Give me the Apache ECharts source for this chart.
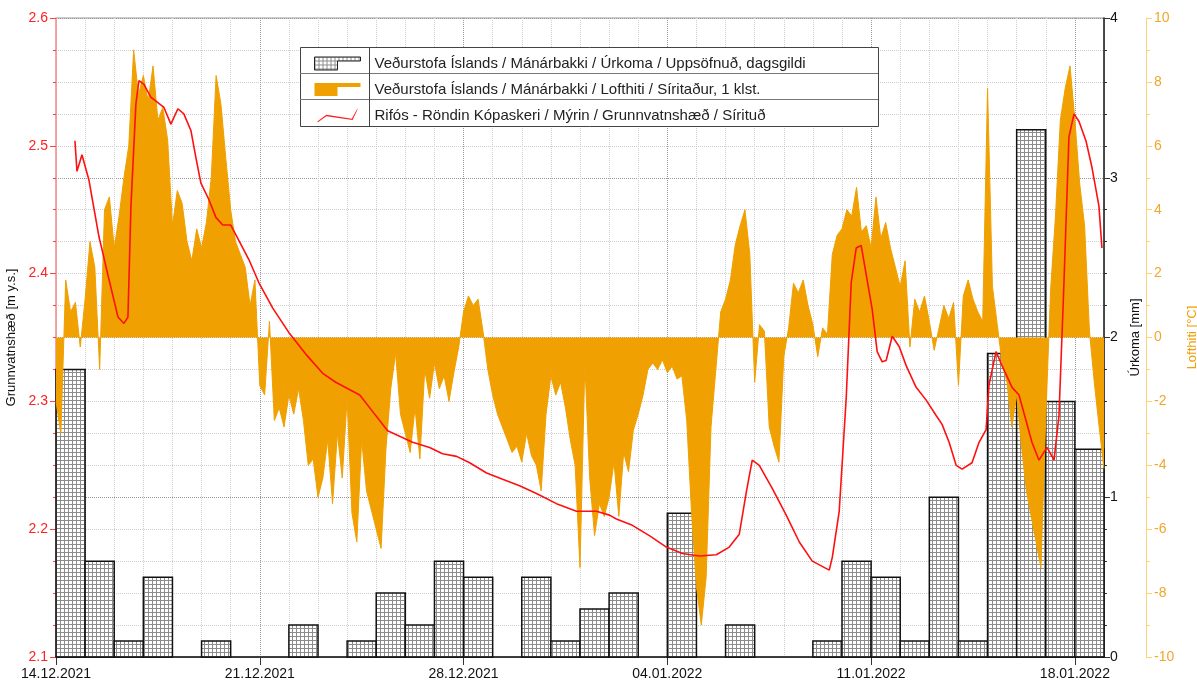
<!DOCTYPE html>
<html>
<head>
<meta charset="utf-8">
<script src="https://cdn.jsdelivr.net/npm/echarts@6/dist/echarts.min.js"></script>
<style>
  html, body { margin: 0; padding: 0; background: #fff; }
  #chart { width: 1197px; height: 685px; }
</style>
</head>
<body>
<div id="chart"></div>
<script>
// hours are counted from 14.12.2021 00:00
const START = Date.UTC(2021, 11, 14);
const X_MAX_H = 864;

// daily precipitation (mm), one value per day from 14.12.2021
const rainValues = [1.8, 0.6, 0.1, 0.5, 0, 0.1, 0, 0, 0.2, 0, 0.1, 0.4, 0.2, 0.6, 0.5, 0, 0.5, 0.1,
  0.3, 0.4, 0, 0.9, 0, 0.2, 0, 0, 0.1, 0.6, 0.5, 0.1, 1.0, 0.1, 1.9, 3.3, 1.6, 1.3];

// air temperature (°C), read every 4 hours
const TEMP_STEP_H = 4;
const tempValues = [
  -2.0, -3.0, 1.8, 0.8, 1.1, -0.3,
  1.2, 3.0, 2.2, -1.0, 4.0, 4.4,
  2.8, 3.8, 5.0, 6.0, 9.0, 7.6,
  8.2, 7.4, 8.5, 6.8, 7.2, 6.2,
  3.5, 4.6, 4.2, 3.0, 2.4, 3.4,
  2.8, 3.6, 5.0, 8.2, 7.3, 5.6,
  4.0, 3.0, 2.6, 2.2, 1.0, 1.8,
  -1.5, -1.8, 0.5, -2.6, -2.2, -2.8,
  -1.8, -2.4, -1.6, -2.6, -4.0, -3.8,
  -5.0, -4.4, -3.2, -5.2, -3.0, -4.4,
  -1.9, -5.5, -6.4, -3.2, -4.8, -5.4,
  -6.0, -6.6, -3.5, -1.6, -0.5, -2.4,
  -3.0, -3.6, -2.2, -3.8, -1.0, -1.9,
  -0.8, -1.6, -1.2, -2.0, -1.1, -0.3,
  0.8, 1.3, 1.0, 1.2, 0.2, -1.0,
  -1.8, -2.4, -2.8, -3.2, -3.6, -3.4,
  -3.9, -3.0, -3.7, -4.0, -4.8, -2.4,
  -1.2, -1.8, -1.4, -2.2, -3.2, -4.0,
  -7.2, -0.8, -4.4, -6.2, -5.2, -5.6,
  -5.0, -3.9, -5.6, -3.6, -4.2, -2.9,
  -2.4, -1.8, -1.0, -0.8, -1.0, -0.7,
  -1.1, -0.9, -1.3, -1.2, -2.6, -5.5,
  -7.8, -9.0, -7.5, -2.8, -1.0, 0.8,
  1.2, 1.8, 2.9, 3.5, 4.0, 2.6,
  -1.4, 0.4, 0.2, -2.8, -3.4, -3.9,
  -0.6, 0.3, 1.7, 1.4, 1.8, 1.0,
  0.4, -0.6, 0.3, 0.1, 2.6, 3.2,
  3.4, 4.0, 3.8, 4.7, 3.3, 3.5,
  2.8, 4.4, 3.1, 3.6, 2.8, 2.2,
  1.6, 2.4, -0.3, 1.2, 0.8, 1.3,
  0.5, -0.4, 0.3, 1.0, 0.6, 1.1,
  -1.5, 1.3, 1.8, 1.2, 0.8, 0.5,
  7.8, 1.6, 0.4, -0.8, -1.4, -2.8,
  -1.8, -3.4, -4.8, -5.6, -6.4, -7.2,
  -2.5, 1.5, 3.8, 6.8, 7.8, 8.5,
  6.8, 4.8, 3.5, 0.2, -1.4, -2.8,
  -4.1
];

// groundwater level (m y.s.)
const gwHours = [15.6, 17.3, 21.4, 27.2, 35.4, 42.8, 51.1, 56.0, 59.3, 61.8, 65.9, 68.4, 72.5, 78.2,
  82.4, 89.0, 94.7, 100.5, 105.4, 111.2, 115.3, 119.4, 126.0, 131.8, 137.5, 144.1, 150.7, 159.0,
  167.2, 178.7, 191.9, 205.9, 219.9, 230.6, 250.4, 261.1, 273.4, 294.0, 308.0, 318.7, 330.3, 341.0,
  355.0, 368.2, 382.2, 396.1, 412.6, 429.1, 445.6, 456.3, 462.0, 475.2, 489.2, 503.2, 516.4, 530.4,
  544.4, 555.1, 563.3, 569.1, 574.0, 579.8, 590.5, 602.0, 612.8, 623.5, 637.5, 640.0, 645.7, 651.5,
  655.6, 659.7, 663.8, 668.0, 672.9, 677.0, 681.1, 684.4, 689.4, 695.1, 700.9, 709.1, 717.4, 725.6,
  730.5, 736.3, 742.1, 747.0, 755.2, 761.0, 766.8, 769.2, 775.0, 779.9, 788.2, 793.9, 799.7, 804.6,
  810.4, 817.0, 822.8, 826.9, 831.0, 835.1, 839.3, 843.4, 849.1, 854.1, 859.8, 862.3];
const gwLevels = [2.504, 2.480, 2.493, 2.473, 2.429, 2.399, 2.366, 2.361, 2.366, 2.453, 2.533, 2.551, 2.548, 2.538,
  2.535, 2.530, 2.517, 2.529, 2.525, 2.512, 2.491, 2.471, 2.458, 2.444, 2.438, 2.438, 2.426, 2.411,
  2.393, 2.373, 2.354, 2.337, 2.322, 2.315, 2.305, 2.292, 2.277, 2.268, 2.264, 2.259, 2.257, 2.252,
  2.244, 2.239, 2.234, 2.228, 2.220, 2.214, 2.214, 2.211, 2.208, 2.203, 2.195, 2.186, 2.181, 2.179,
  2.180, 2.186, 2.196, 2.229, 2.254, 2.250, 2.232, 2.211, 2.190, 2.175, 2.168, 2.178, 2.214, 2.303,
  2.393, 2.420, 2.422, 2.399, 2.372, 2.339, 2.331, 2.332, 2.351, 2.343, 2.328, 2.311, 2.301, 2.289,
  2.282, 2.268, 2.250, 2.247, 2.252, 2.268, 2.278, 2.313, 2.339, 2.328, 2.311, 2.305, 2.285, 2.268,
  2.254, 2.264, 2.254, 2.289, 2.393, 2.507, 2.525, 2.519, 2.504, 2.483, 2.453, 2.420];

const NAME_RAIN = 'Veðurstofa Íslands / Mánárbakki / Úrkoma / Uppsöfnuð, dagsgildi';
const NAME_TEMP = 'Veðurstofa Íslands / Mánárbakki / Lofthiti / Síritaður, 1 klst.';
const NAME_GW = 'Rifós - Röndin Kópaskeri / Mýrin / Grunnvatnshæð / Sírituð';

const ORANGE = '#f0a000';
const FONT = 'Liberation Sans, Arial, sans-serif';

// crosshatch fill for the precipitation bars
const hatch = document.createElement('canvas');
hatch.width = 4; hatch.height = 4;
const hctx = hatch.getContext('2d');
hctx.fillStyle = '#fff'; hctx.fillRect(0, 0, 4, 4);
hctx.fillStyle = '#8c8c8c'; hctx.fillRect(0, 0, 4, 1); hctx.fillRect(0, 0, 1, 4);
const hatchFill = { image: hatch, repeat: 'repeat' };

const rainData = rainValues.map((v, d) => [d * 24, d * 24 + 24, v]);
const tempData = tempValues.map((v, i) => [i * TEMP_STEP_H, v]);
const gwData = gwHours.map((h, i) => [h, gwLevels[i]]);

const pad = n => (n < 10 ? '0' : '') + n;
const fmtDate = h => {
  const d = new Date(START + h * 3600000);
  return pad(d.getUTCDate()) + '.' + pad(d.getUTCMonth() + 1) + '.' + d.getUTCFullYear();
};

const chart = echarts.init(document.getElementById('chart'));
chart.setOption({
  animation: false,
  backgroundColor: '#fff',
  textStyle: { fontFamily: FONT },
  grid: {
    left: 56, right: 93, top: 18, bottom: 28,
    containLabel: false, outerBoundsMode: 'none',
    show: true, borderColor: '#999', borderWidth: 1
  },
  legend: {
    orient: 'vertical',
    left: 309,
    top: 51,
    z: 60,
    itemGap: 11,
    itemWidth: 46,
    itemHeight: 14,
    selectedMode: false,
    textStyle: { fontSize: 15, color: '#222', fontFamily: FONT, padding: [0, 0, 0, 9] },
    data: [
      { name: NAME_RAIN, icon: 'path://M0,0H46V4H23V13H0Z', itemStyle: { color: hatchFill, borderColor: '#222', borderWidth: 1 } },
      { name: NAME_TEMP, icon: 'path://M0,0H46V4H23V13H0Z', itemStyle: { color: ORANGE } },
      { name: NAME_GW, icon: 'path://M0,16L11,8L43,13L50,0L50,1.6L44,14.6L11,9.6L0,17.6Z', itemStyle: { color: '#ff2020' } }
    ]
  },
  graphic: [
    { type: 'rect', z: 50, shape: { x: 300.5, y: 47.5, width: 578, height: 79 }, style: { fill: '#fff', stroke: '#444', lineWidth: 1 } },
    { type: 'line', z: 51, shape: { x1: 300, y1: 73.5, x2: 878, y2: 73.5 }, style: { stroke: '#777', lineWidth: 1 } },
    { type: 'line', z: 51, shape: { x1: 300, y1: 99.5, x2: 878, y2: 99.5 }, style: { stroke: '#777', lineWidth: 1 } },
    { type: 'line', z: 51, shape: { x1: 369.5, y1: 47, x2: 369.5, y2: 126 }, style: { stroke: '#444', lineWidth: 1 } }
  ],
  xAxis: {
    type: 'value',
    min: 0,
    max: X_MAX_H,
    interval: 168,
    axisLine: { onZero: false, lineStyle: { color: '#111', width: 1.5 } },
    axisTick: { length: 8, lineStyle: { color: '#333' } },
    minorTick: { show: false, splitNumber: 7 },
    axisLabel: { formatter: fmtDate, color: '#111', fontSize: 14, margin: 10 },
    splitLine: { show: true, lineStyle: { color: '#999', type: 'dotted', width: 1 } },
    minorSplitLine: { show: true, lineStyle: { color: '#d0d0d0', type: 'dotted', width: 1 } }
  },
  yAxis: [
    {
      type: 'value',
      position: 'left',
      min: 2.1,
      max: 2.6,
      interval: 0.1,
      name: 'Grunnvatnshæð [m y.s.]',
      nameLocation: 'middle',
      nameRotate: 90,
      nameGap: 34,
      nameTextStyle: { color: '#111', fontSize: 13, fontFamily: FONT },
      axisLine: { show: true, lineStyle: { color: '#ff9a9a', width: 1.5 } },
      axisTick: { show: true, length: 6, lineStyle: { color: '#ff4040' } },
      minorTick: { show: true, splitNumber: 4, length: 3, lineStyle: { color: '#ff4040' } },
      axisLabel: { color: '#ff2020', fontSize: 14, margin: 8, formatter: v => v.toFixed(1) },
      splitLine: { show: false }
    },
    {
      type: 'value',
      position: 'right',
      min: 0,
      max: 4,
      interval: 1,
      name: 'Úrkoma [mm]',
      nameLocation: 'middle',
      nameRotate: 90,
      nameGap: 20,
      nameTextStyle: { color: '#111', fontSize: 13, fontFamily: FONT },
      axisLine: { show: true, lineStyle: { color: '#222', width: 1.5 } },
      axisTick: { show: true, length: 6, lineStyle: { color: '#333' } },
      minorTick: { show: true, splitNumber: 5, length: 3, lineStyle: { color: '#333' } },
      axisLabel: { color: '#111', fontSize: 14, margin: 6 },
      splitLine: { show: true, lineStyle: { color: '#999', type: 'dotted', width: 1 } },
      minorSplitLine: { show: true, lineStyle: { color: '#d0d0d0', type: 'dotted', width: 1 } }
    },
    {
      type: 'value',
      position: 'right',
      offset: 42,
      min: -10,
      max: 10,
      interval: 2,
      name: 'Lofthiti [°C]',
      nameLocation: 'middle',
      nameRotate: 90,
      nameGap: 40,
      nameTextStyle: { color: ORANGE, fontSize: 13, fontFamily: FONT },
      axisLine: { show: true, lineStyle: { color: '#fcd27a', width: 1 } },
      axisTick: { show: true, length: 6, lineStyle: { color: '#fcd27a' } },
      minorTick: { show: true, splitNumber: 2, length: 4, lineStyle: { color: '#fcd27a' } },
      axisLabel: { color: '#f2a62a', fontSize: 14, margin: 8 },
      splitLine: { show: false }
    }
  ],
  series: [
    {
      name: NAME_RAIN,
      type: 'custom',
      xAxisIndex: 0,
      yAxisIndex: 1,
      z: 2,
      itemStyle: { color: hatchFill, borderColor: '#111' },
      encode: { x: [0, 1], y: 2 },
      data: rainData,
      renderItem: (params, api) => {
        const v = api.value(2);
        if (!v) return null;
        const top = api.coord([api.value(0), v]);
        const bottom = api.coord([api.value(1), 0]);
        return {
          type: 'rect',
          shape: { x: top[0], y: top[1], width: bottom[0] - top[0], height: bottom[1] - top[1] },
          style: { fill: hatchFill, stroke: '#111', lineWidth: 1.5 }
        };
      }
    },
    {
      name: NAME_TEMP,
      type: 'line',
      xAxisIndex: 0,
      yAxisIndex: 2,
      z: 3,
      showSymbol: false,
      data: tempData,
      lineStyle: { color: ORANGE, width: 1 },
      itemStyle: { color: ORANGE },
      areaStyle: { color: ORANGE, opacity: 1 }
    },
    {
      name: NAME_GW,
      type: 'line',
      xAxisIndex: 0,
      yAxisIndex: 0,
      z: 5,
      showSymbol: false,
      data: gwData,
      lineStyle: { color: '#ff1010', width: 1.6 },
      itemStyle: { color: '#ff1010' }
    }
  ]
});
</script>
</body>
</html>
